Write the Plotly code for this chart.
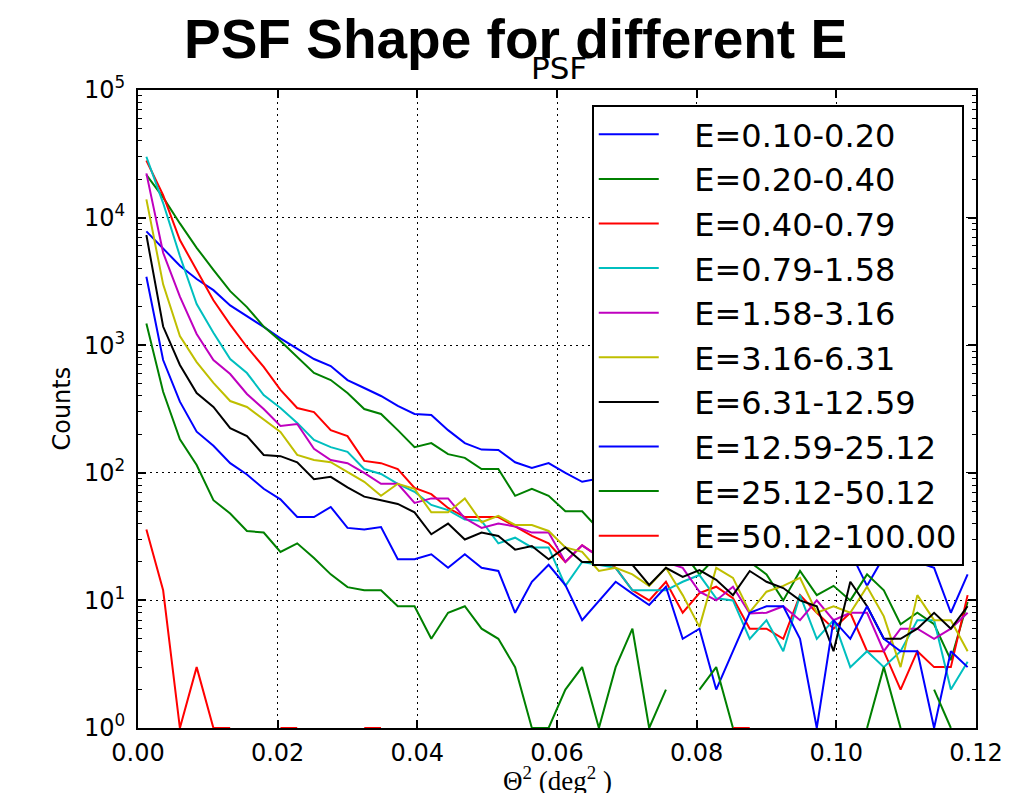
import plotly.graph_objects as go

# bin centres of theta^2 (deg^2)
theta2 = [0.0012, 0.0036, 0.0060, 0.0084, 0.0108, 0.0132, 0.0156, 0.0180, 0.0204, 0.0228,
          0.0252, 0.0276, 0.0300, 0.0324, 0.0348, 0.0372, 0.0396, 0.0420, 0.0444, 0.0468,
          0.0492, 0.0516, 0.0540, 0.0564, 0.0588, 0.0612, 0.0636, 0.0660, 0.0684, 0.0708,
          0.0732, 0.0756, 0.0780, 0.0804, 0.0828, 0.0852, 0.0876, 0.0900, 0.0924, 0.0948,
          0.0972, 0.0996, 0.1020, 0.1044, 0.1068, 0.1092, 0.1116, 0.1140, 0.1164, 0.1188]

labels = ["E=0.10-0.20", "E=0.20-0.40", "E=0.40-0.79", "E=0.79-1.58", "E=1.58-3.16",
          "E=3.16-6.31", "E=6.31-12.59", "E=12.59-25.12", "E=25.12-50.12", "E=50.12-100.00"]

e_0p10_0p20 = [7800, 5700, 4200, 3300, 2700, 2050, 1690, 1390, 1130, 934,
               779, 687, 533, 462, 400, 334, 289, 284, 216, 171,
               152, 151, 121, 109, 119, 100, 85, 90, 78, 80,
               70, 62, 60, 52, 48, 45, 40, 38, 33, 31,
               28, 26, 24, 13, 22, 24, 20, 18, 8, 16]
e_0p20_0p40 = [21600, 14400, 9000, 5800, 3900, 2650, 1990, 1400, 1080, 809,
               606, 533, 422, 316, 289, 216, 159, 171, 140, 131,
               107, 107, 66, 75, 66, 50, 50, 36, 38, 30,
               30, 26, 24, 16, 22, 21, 20, 16, 10, 17,
               11, 13, 10, 16, 12, 6.5, 8, 6.5, 3.4, 9.7]
e_0p40_0p79 = [28000, 15000, 6670, 3900, 2250, 1450, 968, 675, 446, 322,
               299, 216, 194, 124, 119, 107, 76, 68, 53, 45,
               45, 45, 38, 32, 28, 20, 27, 22, 18, 12,
               10, 14, 8, 11.4, 12.8, 10.4, 6, 6, 5, 11,
               8, 6, 8, 4, 4, 2, 4, 3, 3, 11]
e_0p79_1p58 = [30000, 13000, 5000, 2100, 1250, 780, 605, 407, 322, 246,
               181, 159, 146, 107, 98, 82, 71, 56, 51, 43,
               42, 28, 31, 26, 26, 13, 20, 19, 18, 12,
               12, 12, 14, 15.8, 10.4, 10, 5, 7, 4, 11,
               5, 7, 3, 4, 3, 4, 7, 7, 2, 3.3]
e_1p58_3p16 = [22200, 5300, 2400, 1225, 765, 594, 415, 316, 233, 241,
               154, 126, 119, 100, 82, 82, 58, 63, 63, 44,
               37, 40, 38, 34, 34, 20, 27, 22, 21, 20,
               22, 20, 18, 11.7, 10, 12.8, 7.9, 8, 9, 7,
               10, 7, 8, 8, 4, 6, 6, 5, 6, 8]
e_3p16_6p31 = [13900, 3000, 1180, 738, 506, 365, 328, 264, 209, 138,
               126, 121, 101, 85, 66, 82, 75, 49, 49, 63,
               41, 46, 39, 39, 35, 26, 24, 17, 18, 16,
               13, 18, 11, 6.2, 18, 15, 8.1, 11.7, 13, 15,
               8, 9, 8, 12.8, 7.5, 3, 11, 7, 7, 4]
e_6p31_12p59 = [7300, 1400, 700, 422, 328, 224, 194, 138, 135, 121,
                89, 93, 77, 65, 61, 57, 49, 33, 40, 30,
                34, 32, 25, 26.7, 21, 26, 20, 20, 21, 19,
                13.2, 18, 15.3, 17.3, 14.5, 11, 17, 14, 12.5, 10,
                9, 4, 14, 9, 5, 5, 6, 8, 6, 9]
e_12p59_25p12 = [3440, 765, 361, 210, 163, 119, 97, 75, 62, 45,
                 45, 54, 37, 36, 37.6, 21, 21, 23, 18, 23,
                 18, 17, 8, 14, 19, 13.2, 7, 10, 14, 11.3,
                 9.2, 12.8, 5, 6, 2, 4, 8, 9, 9, 5,
                 1, 7, 5, 9, 5, 4, 4, 1, 4, 3]
e_25p12_50p12 = [1480, 432, 183, 115, 61, 48, 35, 34, 24, 28,
                 21.5, 16, 12.7, 12, 12, 9, 9, 5, 8, 9,
                 6, 5, 3, 1, 1, 2, 3, 1, 3, 6,
                 1, 2, None, 2, 3, 1, None, None, None, None,
                 None, None, None, 1, 3, 1, None, 2, 1, None]
e_50p12_100 = [36, 12, 1, 3, 1, 1, None, None, 1, 1,
               None, None, None, 1, 1, None, None, None, None, None,
               None, None, None, None, None, None, None, None, None, None,
               None, None, None, None, None, 1, 1, None, None, None,
               None, None, None, None, None, None, None, None, None, None]

series = [e_0p10_0p20, e_0p20_0p40, e_0p40_0p79, e_0p79_1p58, e_1p58_3p16,
          e_3p16_6p31, e_6p31_12p59, e_12p59_25p12, e_25p12_50p12, e_50p12_100]
colors = ["#0000ff", "#008000", "#ff0000", "#00bfbf", "#bf00bf",
          "#bfbf00", "#000000", "#0000ff", "#008000", "#ff0000"]

y_major = [1, 10, 100, 1000, 10000, 100000]
y_major_text = ["10<sup>0</sup>", "10<sup>1</sup>", "10<sup>2</sup>",
                "10<sup>3</sup>", "10<sup>4</sup>", "10<sup>5</sup>"]
y_minor = [m * d for d in [1, 10, 100, 1000, 10000] for m in range(2, 10)]

fig = go.Figure()
for name, vals, col in zip(labels, series, colors):
    fig.add_trace(go.Scatter(x=theta2, y=vals, mode="lines", name="\u00a0" * 3 + name,
                             line=dict(color=col, width=2), connectgaps=False))

W, H = 1015, 793
L, R, T, B = 138, 33, 90, 65
pw, ph = W - L - R, H - T - B

def px(xp):
    return (xp - L) / pw

def py(yp):
    return (H - B - yp) / ph

fig.update_layout(
    width=W, height=H,
    margin=dict(l=L, r=R, t=T, b=B, pad=0),
    paper_bgcolor="white", plot_bgcolor="white",
    font=dict(family="DejaVu Sans", color="black", size=24),
    showlegend=True,
    legend=dict(x=px(595), y=py(105), xanchor="left", yanchor="top",
                bgcolor="white", bordercolor="black", borderwidth=2,
                font=dict(family="DejaVu Sans", size=32, color="black"),
                itemwidth=60, tracegroupgap=0),
    xaxis=dict(range=[0, 0.12], dtick=0.02, tick0=0, tickformat=".2f",
               showline=True, linecolor="black", linewidth=2, mirror="allticks",
               ticks="inside", ticklen=8, tickwidth=1.5, tickcolor="black",
               showgrid=True, gridcolor="black", gridwidth=1, griddash="2px,4px",
               zeroline=False, tickfont=dict(family="DejaVu Sans", size=24),
               ticklabelstandoff=2),
    yaxis=dict(type="log", range=[0, 5], tickvals=y_major, ticktext=y_major_text,
               showline=True, linecolor="black", linewidth=2, mirror="allticks",
               ticks="inside", ticklen=8, tickwidth=1.5, tickcolor="black",
               showgrid=True, gridcolor="black", gridwidth=1, griddash="2px,4px",
               zeroline=False, tickfont=dict(family="DejaVu Sans", size=24),
               ticklabelstandoff=6,
               minor=dict(tickvals=y_minor, ticks="inside", ticklen=4, tickwidth=1,
                          tickcolor="black", showgrid=False)),
)

fig.add_annotation(text="<b>PSF Shape for different E</b>", x=px(518), y=py(39),
                   xref="paper", yref="paper", xanchor="center", yanchor="middle",
                   showarrow=False, font=dict(family="Liberation Sans", size=55, color="black"))
fig.add_annotation(text="PSF", x=px(562), y=py(68), xref="paper", yref="paper",
                   xanchor="center", yanchor="middle", showarrow=False,
                   font=dict(family="DejaVu Sans", size=31, color="black"))
fig.add_annotation(text="Counts", x=px(61), y=py(409), xref="paper", yref="paper",
                   xanchor="center", yanchor="middle", textangle=-90, showarrow=False,
                   font=dict(family="DejaVu Sans", size=24, color="black"))
fig.add_annotation(text="\u0398<sup>2</sup> (deg<sup>2</sup> )", x=px(560), y=py(760),
                   xref="paper", yref="paper", xanchor="center", yanchor="top",
                   showarrow=False,
                   font=dict(family="Liberation Serif", size=27, color="black"))

fig.write_html("out.html")
